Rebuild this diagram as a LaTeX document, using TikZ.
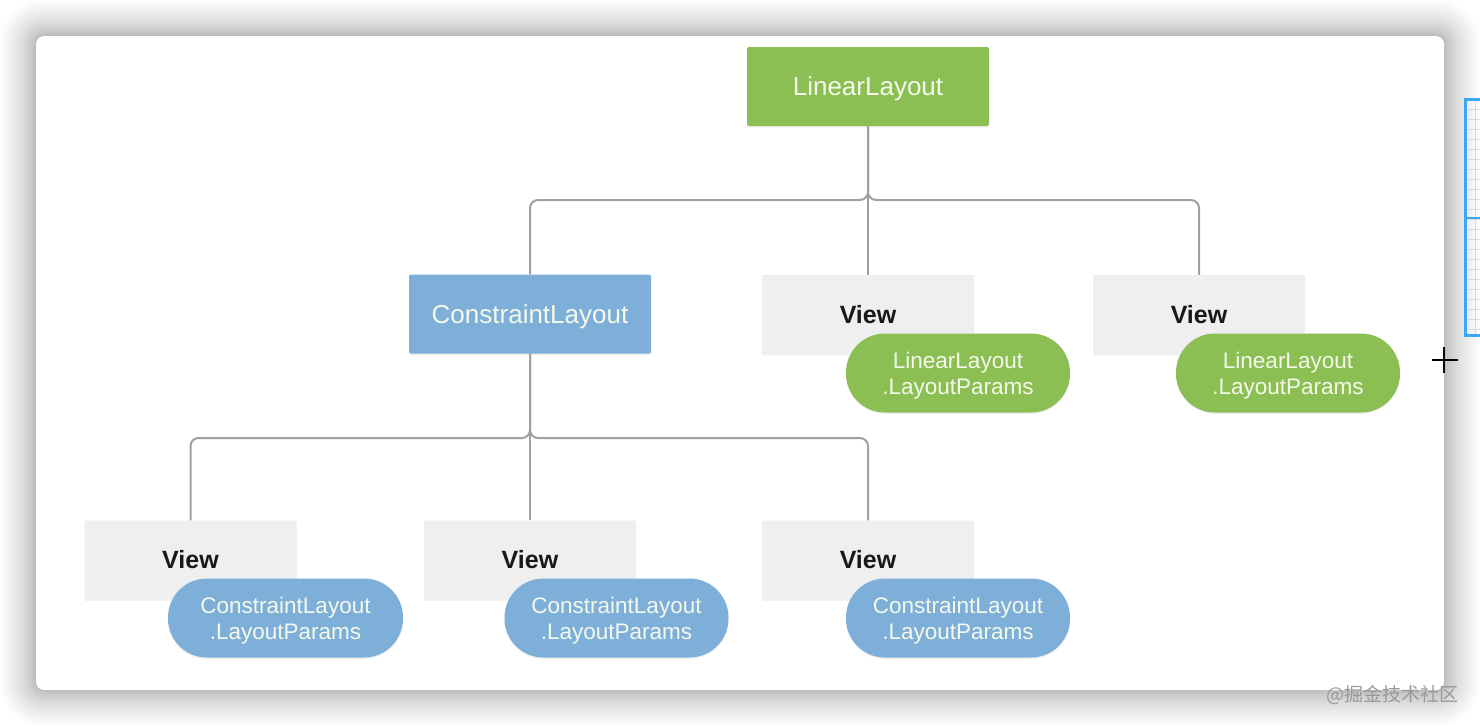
\documentclass[tikz,border=0pt]{standalone}
\usepackage{fontspec}
\setmainfont{Liberation Sans}
\newfontfamily\cjkfont{Noto Sans CJK SC}
\usetikzlibrary{shadows}
\definecolor{llgreen}{HTML}{8CBF53}
\definecolor{clblue}{HTML}{7DAFD8}
\definecolor{viewgray}{HTML}{EFEFEF}
\definecolor{linkgray}{HTML}{A0A0A0}
\definecolor{paletext}{HTML}{F4F9EC}
\definecolor{markgray}{HTML}{9A9A9A}
\definecolor{selblue}{HTML}{3AA8F5}
\tikzset{
  layoutbox/.style={minimum width=242pt, minimum height=79pt, inner sep=0pt,
    text depth=0pt, rounded corners=2pt, text=paletext,
    font=\fontsize{26}{30}\selectfont,
    drop shadow={opacity=0.12, shadow xshift=0pt, shadow yshift=-1.5pt}},
  viewbox/.style={fill=viewgray, minimum width=212pt, minimum height=79pt,
    inner sep=0pt, rounded corners=1pt, text=black!90,
    font=\fontsize{25}{30}\selectfont\bfseries,
    drop shadow={opacity=0.10, shadow xshift=0pt, shadow yshift=-1.5pt}},
  parampill/.style={minimum width=224pt, minimum height=79pt, inner sep=0pt,
    text depth=0pt, rounded corners=39pt, text=paletext, align=center,
    font=\fontsize{22.5}{26}\selectfont,
    drop shadow={opacity=0.12, shadow xshift=0pt, shadow yshift=-1.5pt}},
  link/.style={draw=linkgray, line width=2pt, rounded corners=8pt}
}
\begin{document}
\begin{tikzpicture}[x=1pt, y=-1pt]
  \useasboundingbox (0,0) rectangle (1480,726);
  \fill[white] (0,0) rectangle (1480,726);
  % Karten-Schatten
  \foreach \k in {24,23,...,1}{
    \pgfmathsetmacro\ee{36*(\k/24)^1.6}
    \pgfmathsetmacro\rr{8+\ee}
    \fill[black, opacity=0.011, rounded corners=\rr pt] (36-\ee,36-\ee) rectangle (1444+\ee,690+\ee);
  }
  \fill[white, rounded corners=8pt] (36,36) rectangle (1444,690);
  % Auswahlrahmen am rechten Rand
  \foreach \yy in {109,119,...,329}{
    \draw[black!15, line width=1pt] (1468,\yy) -- (1480,\yy);
  }
  \draw[black!15, line width=1pt] (1475,101) -- (1475,334);
  \draw[selblue, line width=3pt] (1480,99.5) -- (1465.5,99.5) -- (1465.5,335.5) -- (1480,335.5);
  \draw[selblue, line width=2pt] (1465.5,218) -- (1480,218);
  % Knoten
  \coordinate (topbar) at (868,200);
  \coordinate (lowbar) at (530,438);
  \node[layoutbox, fill=llgreen] (root) at (868,86.5) {LinearLayout};
  \node[layoutbox, fill=clblue] (cl) at (530,314) {ConstraintLayout};
  \node[viewbox] (viewA) at (868,314.5) {View};
  \node[viewbox] (viewB) at (1199,314.5) {View};
  \node[viewbox] (viewC) at (190.5,560) {View};
  \node[viewbox] (viewD) at (530,560) {View};
  \node[viewbox] (viewE) at (868,560) {View};
  % Verbindungen
  \draw[link] (root.south) -- (root.south |- topbar) -| (cl.north);
  \draw[link] (root.south) -- (root.south |- topbar) -| (viewB.north);
  \draw[link] (root.south) -- (viewA.north);
  \draw[link] (cl.south) -- (cl.south |- lowbar) -| (viewC.north);
  \draw[link] (cl.south) -- (cl.south |- lowbar) -| (viewE.north);
  \draw[link] (cl.south) -- (viewD.north);
  % LayoutParams
  \node[parampill, fill=llgreen] (lpA) at (958,373) {LinearLayout\\.LayoutParams};
  \node[parampill, fill=llgreen] (lpB) at (1288,373) {LinearLayout\\.LayoutParams};
  \node[parampill, fill=clblue, minimum width=235pt] (cpC) at (285.5,618) {ConstraintLayout\\.LayoutParams};
  \node[parampill, fill=clblue] (cpD) at (616.5,618) {ConstraintLayout\\.LayoutParams};
  \node[parampill, fill=clblue] (cpE) at (958,618) {ConstraintLayout\\.LayoutParams};
  % Mauszeiger
  \draw[black, line width=2pt] (1432,360) -- (1458,360);
  \draw[black, line width=2pt] (1444,347) -- (1444,373);
  % Wasserzeichen
  \node[text=markgray, font=\fontsize{19}{22}\cjkfont, anchor=east, inner sep=0pt] (mark) at (1459,695) {@掘金技术社区};
\end{tikzpicture}
\end{document}
